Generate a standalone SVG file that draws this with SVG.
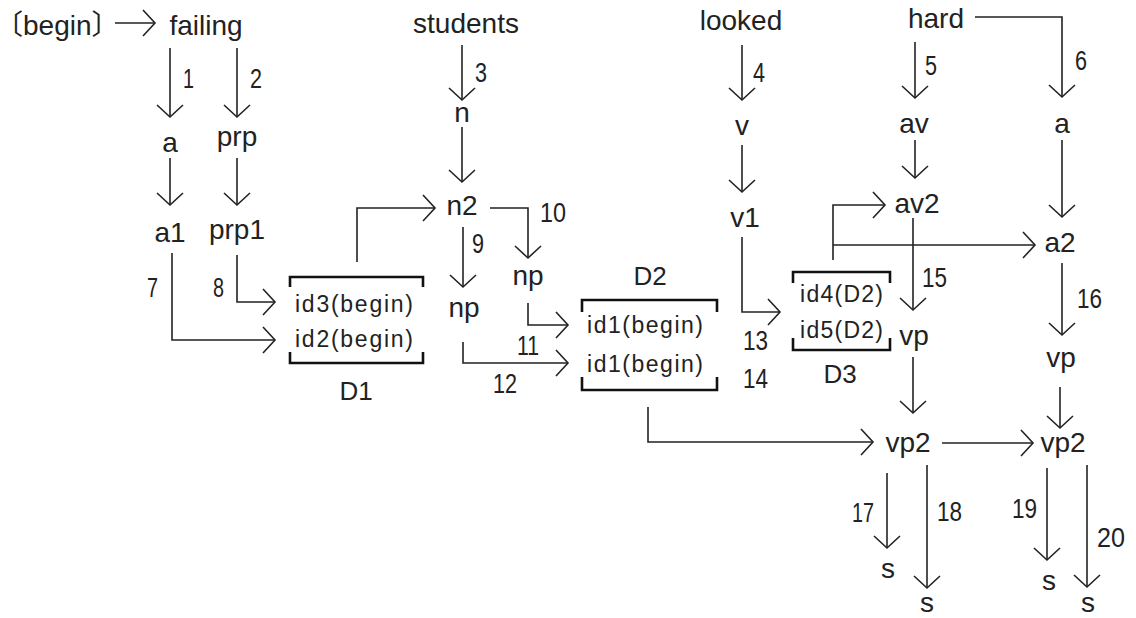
<svg xmlns="http://www.w3.org/2000/svg" width="1136" height="618" viewBox="0 0 1136 618">
<style>
.t{font-family:"Liberation Sans",Arial,"Noto Sans CJK JP",sans-serif;font-size:28px;fill:#222;text-anchor:middle}
.bg{font-family:"Liberation Sans",Arial,"Noto Sans CJK JP",sans-serif;font-size:28px;fill:#222;font-feature-settings:"halt"}
.num{font-family:"Liberation Sans",Arial,sans-serif;font-size:28px;fill:#222}
.bx{font-family:"Liberation Sans",Arial,sans-serif;font-size:23px;fill:#222}
.dl{font-family:"Liberation Sans",Arial,sans-serif;font-size:26px;fill:#222;text-anchor:middle}
.c path{fill:none;stroke:#222;stroke-width:1.6;marker-end:url(#ah)}
.br{fill:none;stroke:#111;stroke-width:2.6}
</style>
<defs>
<marker id="ah" markerUnits="userSpaceOnUse" viewBox="-16 -16 32 32" markerWidth="32" markerHeight="32" refX="0" refY="0" orient="auto" overflow="visible">
<path d="M-12,-13 L0,0 L-12,13" fill="none" stroke="#222" stroke-width="1.6"/>
</marker>
</defs>
<rect width="1136" height="618" fill="#fff"/>
<g id="connectors" class="c">
<path d="M115,23 H155"/>
<path d="M170,48 V117"/>
<path d="M237,48 V117"/>
<path d="M170,158 V205"/>
<path d="M237,158 V205"/>
<path d="M462,45 V100"/>
<path d="M462,127 V182"/>
<path d="M742,45 V100"/>
<path d="M742,145 V192"/>
<path d="M915,42 V98"/>
<path d="M975,17 H1062 V97"/>
<path d="M915,140 V178"/>
<path d="M1062,140 V217"/>
<path d="M172,253 V340 H275"/>
<path d="M237,255 V302 H275"/>
<path d="M357,262 V208 H435"/>
<path d="M463,227 V287"/>
<path d="M490,208 H528 V258"/>
<path d="M528,303 V325 H568"/>
<path d="M463,342 V363 H568"/>
<path d="M742,237 V312 H780"/>
<path d="M833,260 V205 H885"/>
<path d="M833,245 H1035"/>
<path d="M913,218 V310"/>
<path d="M1062,263 V335"/>
<path d="M913,357 V413"/>
<path d="M1060,387 V428"/>
<path d="M648,407 V442 H873"/>
<path d="M942,443 H1033"/>
<path d="M887,473 V548"/>
<path d="M927,465 V588"/>
<path d="M1047,468 V560"/>
<path d="M1087,465 V587"/>
</g>
<g id="edge-labels">
<text class="num" x="183" y="88" textLength="11" lengthAdjust="spacingAndGlyphs">1</text>
<text class="num" x="250" y="88" textLength="12" lengthAdjust="spacingAndGlyphs">2</text>
<text class="num" x="475" y="82" textLength="12" lengthAdjust="spacingAndGlyphs">3</text>
<text class="num" x="753" y="82" textLength="12" lengthAdjust="spacingAndGlyphs">4</text>
<text class="num" x="925" y="75" textLength="12" lengthAdjust="spacingAndGlyphs">5</text>
<text class="num" x="1075" y="70" textLength="12" lengthAdjust="spacingAndGlyphs">6</text>
<text class="num" x="147" y="297" textLength="11" lengthAdjust="spacingAndGlyphs">7</text>
<text class="num" x="213" y="297" textLength="11" lengthAdjust="spacingAndGlyphs">8</text>
<text class="num" x="472" y="253" textLength="12" lengthAdjust="spacingAndGlyphs">9</text>
<text class="num" x="540" y="222" textLength="26" lengthAdjust="spacingAndGlyphs">10</text>
<text class="num" x="517" y="355" textLength="22" lengthAdjust="spacingAndGlyphs">11</text>
<text class="num" x="493" y="393" textLength="24" lengthAdjust="spacingAndGlyphs">12</text>
<text class="num" x="743" y="350" textLength="25" lengthAdjust="spacingAndGlyphs">13</text>
<text class="num" x="743" y="388" textLength="25" lengthAdjust="spacingAndGlyphs">14</text>
<text class="num" x="922" y="287" textLength="25" lengthAdjust="spacingAndGlyphs">15</text>
<text class="num" x="1077" y="308" textLength="25" lengthAdjust="spacingAndGlyphs">16</text>
<text class="num" x="852" y="522" textLength="22" lengthAdjust="spacingAndGlyphs">17</text>
<text class="num" x="937" y="521" textLength="25" lengthAdjust="spacingAndGlyphs">18</text>
<text class="num" x="1012" y="518" textLength="25" lengthAdjust="spacingAndGlyphs">19</text>
<text class="num" x="1097" y="547" textLength="28" lengthAdjust="spacingAndGlyphs">20</text>
</g>
<g id="n-begin"><text class="bg" x="9" y="35">〔begin〕</text></g>
<g id="n-failing"><text class="t" x="206" y="35">failing</text></g>
<g id="n-students"><text class="t" x="466" y="33">students</text></g>
<g id="n-looked"><text class="t" x="741" y="30">looked</text></g>
<g id="n-hard"><text class="t" x="936" y="28">hard</text></g>
<g id="n-a"><text class="t" x="170" y="152">a</text></g>
<g id="n-prp"><text class="t" x="237" y="146">prp</text></g>
<g id="n-a1"><text class="t" x="170" y="242">a1</text></g>
<g id="n-prp1"><text class="t" x="237" y="239">prp1</text></g>
<g id="n-n"><text class="t" x="462" y="122">n</text></g>
<g id="n-n2"><text class="t" x="462" y="215">n2</text></g>
<g id="n-np1"><text class="t" x="528" y="285">np</text></g>
<g id="n-np2"><text class="t" x="464" y="317">np</text></g>
<g id="n-v"><text class="t" x="742" y="135">v</text></g>
<g id="n-v1"><text class="t" x="745" y="227">v1</text></g>
<g id="n-av"><text class="t" x="914" y="133">av</text></g>
<g id="n-a-r"><text class="t" x="1062" y="133">a</text></g>
<g id="n-av2"><text class="t" x="917" y="213">av2</text></g>
<g id="n-a2"><text class="t" x="1060" y="252">a2</text></g>
<g id="n-vp1"><text class="t" x="914" y="345">vp</text></g>
<g id="n-vp2"><text class="t" x="1061" y="367">vp</text></g>
<g id="n-vp2-l"><text class="t" x="908" y="452">vp2</text></g>
<g id="n-vp2-r"><text class="t" x="1063" y="452">vp2</text></g>
<g id="n-s17"><text class="t" x="888" y="578">s</text></g>
<g id="n-s18"><text class="t" x="927" y="612">s</text></g>
<g id="n-s19"><text class="t" x="1049" y="590">s</text></g>
<g id="n-s20"><text class="t" x="1088" y="612">s</text></g>
<g id="n-D1">
<path class="br" d="M290,287 V277 H423 V287 M290,352 V363 H423 V352"/>
<text class="bx" x="295" y="312" textLength="118" lengthAdjust="spacing">id3(begin)</text>
<text class="bx" x="295" y="347" textLength="118" lengthAdjust="spacing">id2(begin)</text>
<text class="dl" x="356" y="400">D1</text>
</g>
<g id="n-D2">
<path class="br" d="M582,312 V300 H717 V312 M582,377 V390 H717 V377"/>
<text class="bx" x="587" y="333" textLength="116" lengthAdjust="spacing">id1(begin)</text>
<text class="bx" x="587" y="372" textLength="116" lengthAdjust="spacing">id1(begin)</text>
<text class="dl" x="650" y="285">D2</text>
</g>
<g id="n-D3">
<path class="br" d="M793,283 V272 H890 V283 M793,338 V350 H890 V338"/>
<text class="bx" x="800" y="302" textLength="83" lengthAdjust="spacing">id4(D2)</text>
<text class="bx" x="800" y="338" textLength="83" lengthAdjust="spacing">id5(D2)</text>
<text class="dl" x="840" y="383">D3</text>
</g>
</svg>
